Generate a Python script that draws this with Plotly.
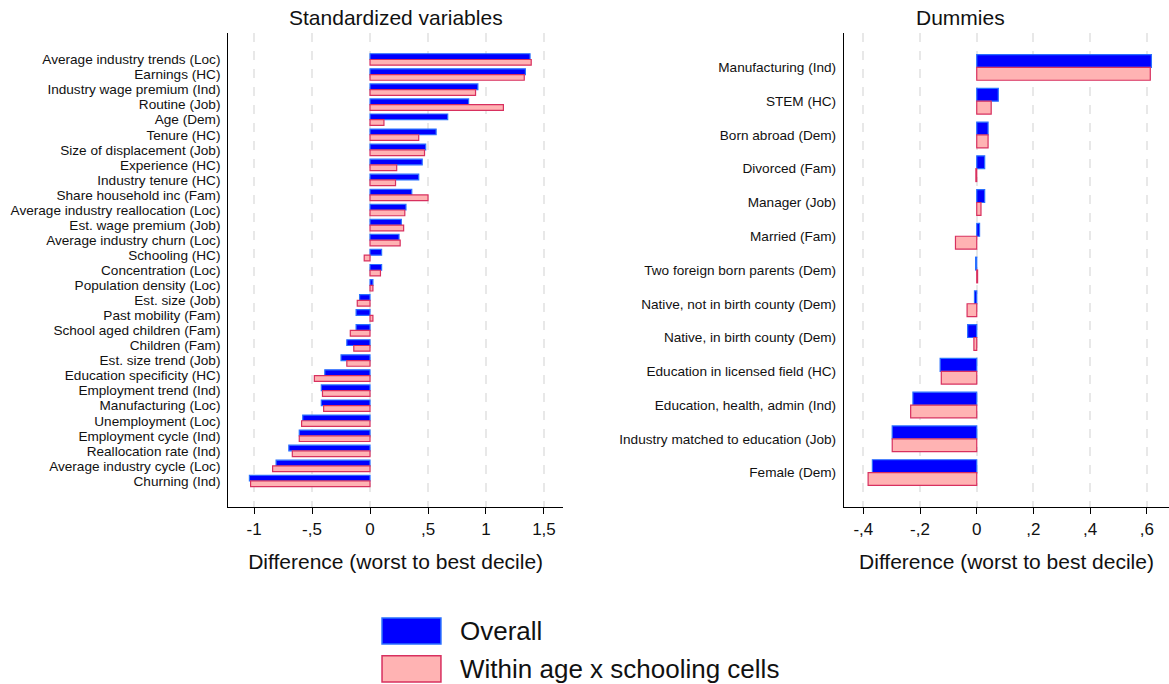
import plotly.graph_objects as go
from plotly.subplots import make_subplots

# data - standardized variables (top to bottom)
std_labels = ["Average industry trends (Loc)", "Earnings (HC)", "Industry wage premium (Ind)",
    "Routine (Job)", "Age (Dem)", "Tenure (HC)", "Size of displacement (Job)", "Experience (HC)",
    "Industry tenure (HC)", "Share household inc (Fam)", "Average industry reallocation (Loc)",
    "Est. wage premium (Job)", "Average industry churn (Loc)", "Schooling (HC)",
    "Concentration (Loc)", "Population density (Loc)", "Est. size (Job)", "Past mobility (Fam)",
    "School aged children (Fam)", "Children (Fam)", "Est. size trend (Job)",
    "Education specificity (HC)", "Employment trend (Ind)", "Manufacturing (Loc)",
    "Unemployment (Loc)", "Employment cycle (Ind)", "Reallocation rate (Ind)",
    "Average industry cycle (Loc)", "Churning (Ind)"]
std_overall = [1.38, 1.34, 0.93, 0.85, 0.67, 0.57, 0.48, 0.45, 0.42, 0.36, 0.31, 0.27, 0.25, 0.10,
    0.10, 0.025, -0.09, -0.12, -0.12, -0.20, -0.25, -0.39, -0.42, -0.42, -0.58, -0.61, -0.70,
    -0.81, -1.04]
std_within = [1.39, 1.33, 0.91, 1.15, 0.12, 0.42, 0.47, 0.23, 0.22, 0.50, 0.30, 0.29, 0.26, -0.05,
    0.09, 0.025, -0.11, 0.025, -0.17, -0.14, -0.20, -0.48, -0.41, -0.40, -0.59, -0.61, -0.67,
    -0.84, -1.03]

# data - dummies (top to bottom)
dum_labels = ["Manufacturing (Ind)", "STEM (HC)", "Born abroad (Dem)", "Divorced (Fam)",
    "Manager (Job)", "Married (Fam)", "Two foreign born parents (Dem)",
    "Native, not in birth county (Dem)", "Native, in birth county (Dem)",
    "Education in licensed field (HC)", "Education, health, admin (Ind)",
    "Industry matched to education (Job)", "Female (Dem)"]
dum_overall = [0.616, 0.076, 0.040, 0.028, 0.028, 0.010, -0.004, -0.008, -0.032, -0.129,
    -0.225, -0.298, -0.368]
dum_within = [0.612, 0.051, 0.040, -0.003, 0.015, -0.075, 0.003, -0.034, -0.010, -0.125,
    -0.233, -0.298, -0.383]

std_ticks = [-1, -0.5, 0, 0.5, 1, 1.5]
std_ticktext = ["-1", "-,5", "0", ",5", "1", "1,5"]
dum_ticks = [-0.4, -0.2, 0, 0.2, 0.4, 0.6]
dum_ticktext = ["-,4", "-,2", "0", ",2", ",4", ",6"]

series = ["Overall", "Within age x schooling cells"]

FONT = "Arial, Liberation Sans, sans-serif"
blue = dict(color="#0000ff", line=dict(color="#2a70ff", width=1.2))
pink = dict(color="#ffb3b3", line=dict(color="#d8305f", width=1.2))

fig = make_subplots(rows=1, cols=2)

for col, labels, ov, wi in [(1, std_labels, std_overall, std_within),
                            (2, dum_labels, dum_overall, dum_within)]:
    fig.add_trace(go.Bar(y=labels, x=ov, orientation="h", marker=blue, name=series[0],
                         showlegend=False), row=1, col=col)
    fig.add_trace(go.Bar(y=labels, x=wi, orientation="h", marker=pink, name=series[1],
                         showlegend=False), row=1, col=col)

xcommon = dict(showline=True, linecolor="black", linewidth=1.3, ticks="outside", ticklen=6,
    tickcolor="black", tickfont=dict(size=17, color="#111"), showgrid=True,
    gridcolor="#e8e8e8", griddash="dash", gridwidth=1.5, zeroline=False,
    title=dict(text="Difference (worst to best decile)", font=dict(size=21, color="#111"),
               standoff=16))
ycommon = dict(showline=True, linecolor="black", linewidth=1.3, ticks="", showgrid=False,
    tickfont=dict(size=13.6, color="#111"), ticklabelstandoff=4, tickmode="array")

fig.update_xaxes(xcommon)
fig.update_yaxes(ycommon)
fig.update_xaxes(domain=[0.1953, 0.4816], range=[-1.222, 1.664], tickvals=std_ticks,
                 ticktext=std_ticktext, row=1, col=1)
fig.update_xaxes(domain=[0.7220, 1.0], range=[-0.468, 0.678], tickvals=dum_ticks,
                 ticktext=dum_ticktext, row=1, col=2)
fig.update_yaxes(range=[28 + 1.73, -1.76], tickvals=std_labels, row=1, col=1)
fig.update_yaxes(range=[12 + 1.02, -1.02], tickvals=dum_labels, row=1, col=2)

# panel titles
for xc, txt in [(0.3385, "Standardized variables"), (0.861, "Dummies")]:
    fig.add_annotation(x=xc, y=1.0, xref="paper", yref="paper", text=txt, showarrow=False,
                       yanchor="bottom", yshift=2, font=dict(size=21, color="#111"))

# legend drawn as boxes + text
for i, (name, mk) in enumerate(zip(series, [blue, pink])):
    y0 = -0.234 - i * 0.08
    fig.add_shape(type="rect", xref="paper", yref="paper", x0=0.3268, x1=0.3772,
                  y0=y0 - 0.055, y1=y0, fillcolor=mk["color"],
                  line=dict(color=mk["line"]["color"], width=1.5))
    fig.add_annotation(x=0.3918, y=y0 - 0.0275, xref="paper", yref="paper", text=name,
                       showarrow=False, xanchor="left", yanchor="middle",
                       font=dict(size=26, color="#111"))

fig.update_layout(
    width=1169, height=684,
    margin=dict(l=0, r=0, t=33, b=177),
    barmode="group", bargap=0.24, bargroupgap=0,
    plot_bgcolor="white", paper_bgcolor="white",
    font=dict(family=FONT, color="#111"),
    showlegend=False,
)

fig.write_html("out.html", config={"displayModeBar": False},
               post_script="document.body.style.margin='0';")
